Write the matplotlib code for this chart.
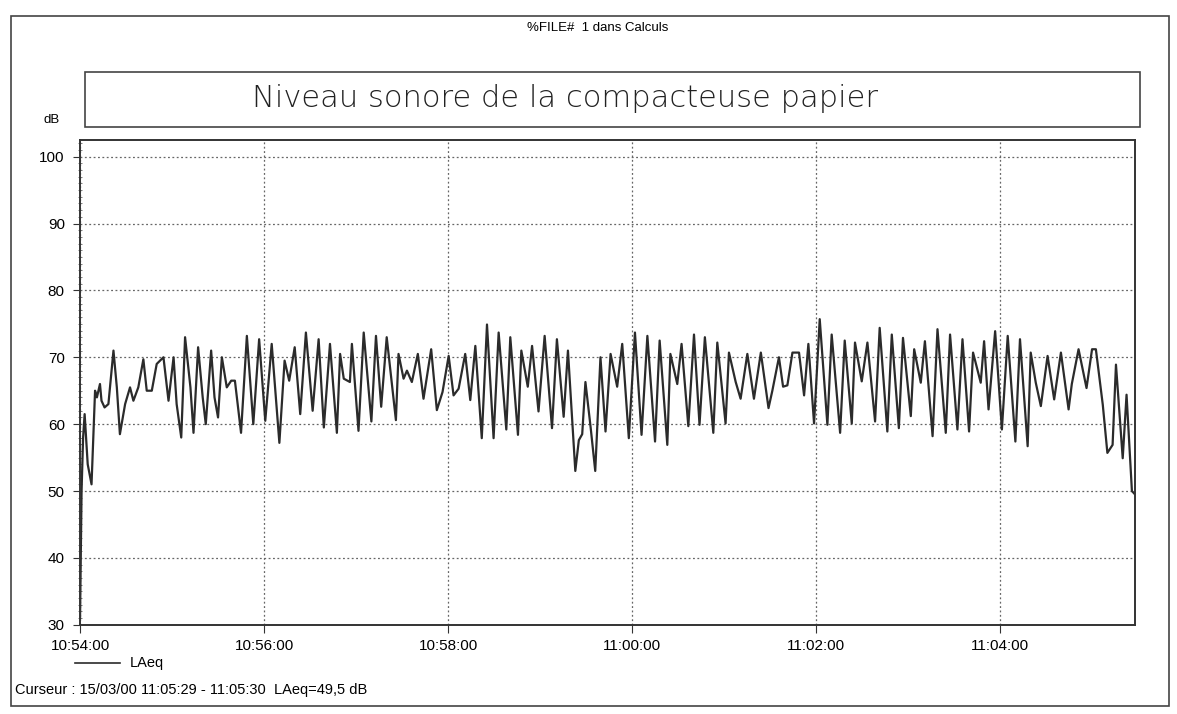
# Niveau sonore de la compacteuse papier - LAeq 1 s
import numpy as np
import matplotlib.pyplot as plt
from matplotlib.lines import Line2D
from matplotlib.patches import Rectangle

# secondes depuis 10:54:00 (pics et creux)
secondes = [0, 1, 2, 3, 5, 7.5, 9.8, 11, 13, 14, 16, 18.5, 21.8, 24, 26, 29.4, 32.6, 34.8, 38, 41.3,
            43.5, 46.8, 50, 54.4, 57.7, 61, 63, 66, 68.5, 72, 74, 77, 80, 82, 85.5, 87.7, 90, 92.5,
            95.7, 98.6, 101, 105, 108.8, 113, 116.8, 120.8, 125, 130, 133.4, 136.4, 140, 143.6,
            147.3, 151.7, 155.6, 159, 163, 167.5, 169.6, 172, 176, 177.3, 181.6, 185, 190, 193,
            196.4, 200, 206, 207.7, 211, 213.2, 216.4, 220.3, 224, 229, 232.7, 236.4, 240.4, 243.6,
            246.9, 251.2, 254.5, 257.8, 262, 265.4, 269.7, 273, 278, 280.6, 285.6, 287.8, 292,
            294.8, 299, 303, 307.8, 311, 315.4, 318.2, 323, 325.3, 327.5, 329.6, 333, 336, 339.4,
            342.7, 346, 350.3, 353.6, 357.9, 361.9, 366.2, 370, 375, 378, 383, 385, 389.5, 392.3,
            396.7, 400.4, 404, 407.5, 413, 415.6, 421, 423.2, 427.6, 430.8, 435.2, 439.5, 444, 449,
            451.5, 455.8, 458.5, 461.3, 464.6, 468.9, 472.2, 475, 478.7, 482.4, 487.4, 490.2,
            495.7, 498.7, 503.3, 505.4, 509.8, 513.5, 518.5, 521.5, 526.5, 529.4, 534, 536.7,
            541.8, 544, 548.3, 551, 556, 559.2, 564.6, 567.4, 572.2, 575.5, 579.8, 582.4, 587.4,
            589.6, 592.5, 596.8, 601.2, 605, 610, 613, 618, 620, 623.3, 626.6, 631, 635.3, 639.7,
            644.7, 646.8, 651.2, 656.4, 660, 662.5, 667, 670, 673.4, 675.6, 680, 682.5, 686, 688]
laeq = [31, 50, 58, 61.5, 54, 51, 65, 64, 66, 63.5, 62.5, 63, 71, 65.5, 58.5, 63, 65.5, 63.5, 65.5, 69.7,
        65, 65, 69, 70, 63.5, 70, 63, 58, 73, 65.5, 58.7, 71.5, 64, 60, 71, 64, 61, 70,
        65.5, 66.5, 66.5, 58.7, 73.2, 60, 72.7, 60.5, 72, 57.2, 69.5, 66.5, 71.5, 61.5,
        73.7, 62, 72.7, 59.5, 72, 58.7, 70.5, 66.8, 66.3, 72, 59, 73.7, 60.4, 73.2,
        62.6, 73, 60.6, 70.5, 66.8, 68, 66.3, 70.5, 63.8, 71.2, 62.1, 64.8, 70.2, 64.3,
        65.3, 70.5, 63.6, 71.7, 57.9, 74.9, 57.9, 73.7, 59.2, 73, 58.4, 71, 65.6,
        71.7, 61.9, 73.2, 59.4, 72.7, 61.1, 71, 53, 57.6, 58.5, 66.3, 59.5, 53, 70,
        58.9, 70.5, 65.6, 72, 57.9, 73.7, 58.4, 73.2, 57.4, 72.5, 56.9, 70.5, 66, 72,
        59.7, 73.4, 59.9, 73, 58.7, 72.2, 60.1, 70.7, 66.3, 63.8, 70.5, 63.8, 70.7, 62.4,
        65, 70, 65.6, 65.8, 70.7, 70.7, 64.3, 72, 60.1, 75.7, 59.9, 73.4,
        58.7, 72.5, 60.1, 72.2, 66.4, 72.2, 60.4, 74.4, 58.9, 73.4, 59.4, 72.9,
        61.2, 71.2, 66.2, 72.4, 58.2, 74.2, 58.7, 73.4, 59.2, 72.7, 58.9, 70.7, 66.2,
        72.4, 62.2, 73.9, 59.2, 73.2, 57.4, 72.7, 56.7, 70.7, 66.2, 62.7, 70.2, 63.7, 70.7,
        62.2, 66, 71.2, 65.4, 71.2, 71.2, 62.9, 55.7, 56.9, 68.9, 54.9, 64.4, 50, 49.5]

# graduations
tick_sec = [0, 120, 240, 360, 480, 600]
tick_labels = ["10:54:00", "10:56:00", "10:58:00", "11:00:00", "11:02:00", "11:04:00"]
db_ticks = [30, 40, 50, 60, 70, 80, 90, 100]

plt.rcParams['font.family'] = ['Liberation Sans', 'DejaVu Sans']

fig = plt.figure(figsize=(11.77, 7.14), dpi=100)
ax = fig.add_axes([0.068, 0.125, 0.8963, 0.679])

ax.plot(secondes, laeq, color='#2b2b2b', lw=1.6)

ax.set_xlim(0, 688)
ax.set_ylim(30, 102.5)
ax.set_xticks(tick_sec)
ax.set_xticklabels(tick_labels, fontsize=11)
ax.set_yticks(db_ticks)
ax.set_yticklabels([str(v) for v in db_ticks], fontsize=11)
ax.set_yticks(np.arange(30, 103, 1), minor=True)
ax.tick_params(axis='y', which='major', length=5, direction='out', pad=6, color='#333')
ax.tick_params(axis='y', which='minor', length=3, direction='inout', color='#666')
ax.tick_params(axis='x', which='major', length=6, direction='out', pad=4, color='#333')
ax.grid(True, which='major', linestyle=(0, (1.5, 2)), color='#666666', lw=0.9)
for s in ax.spines.values():
    s.set_linewidth(1.4)
    s.set_color('#333333')

# cadre de la page et du titre
fig.patches.append(Rectangle((0.0093, 0.0112), 0.984, 0.966, transform=fig.transFigure,
                             fill=False, ec='#444444', lw=1.2))
fig.patches.append(Rectangle((0.0722, 0.822), 0.8964, 0.077, transform=fig.transFigure,
                             fill=False, ec='#444444', lw=1.2))

fig.text(0.508, 0.961, "%FILE#  1 dans Calculs", fontsize=9.5, ha='center', va='center')
fig.text(0.48, 0.862, "Niveau sonore de la compacteuse papier", fontsize=22, ha='center',
         va='center', family='DejaVu Sans', fontweight='light', color='#222222')
fig.text(0.044, 0.832, "dB", fontsize=9.5, ha='center', va='center')

# legende et curseur
fig.lines.append(Line2D([0.064, 0.102], [0.0714, 0.0714], transform=fig.transFigure,
                        color='#2b2b2b', lw=1.2))
fig.text(0.11, 0.0714, "LAeq", fontsize=10.5, va='center')
fig.text(0.0127, 0.0336, "Curseur : 15/03/00 11:05:29 - 11:05:30  LAeq=49,5 dB",
         fontsize=10.5, va='center')

plt.savefig("out.png", dpi=100)
